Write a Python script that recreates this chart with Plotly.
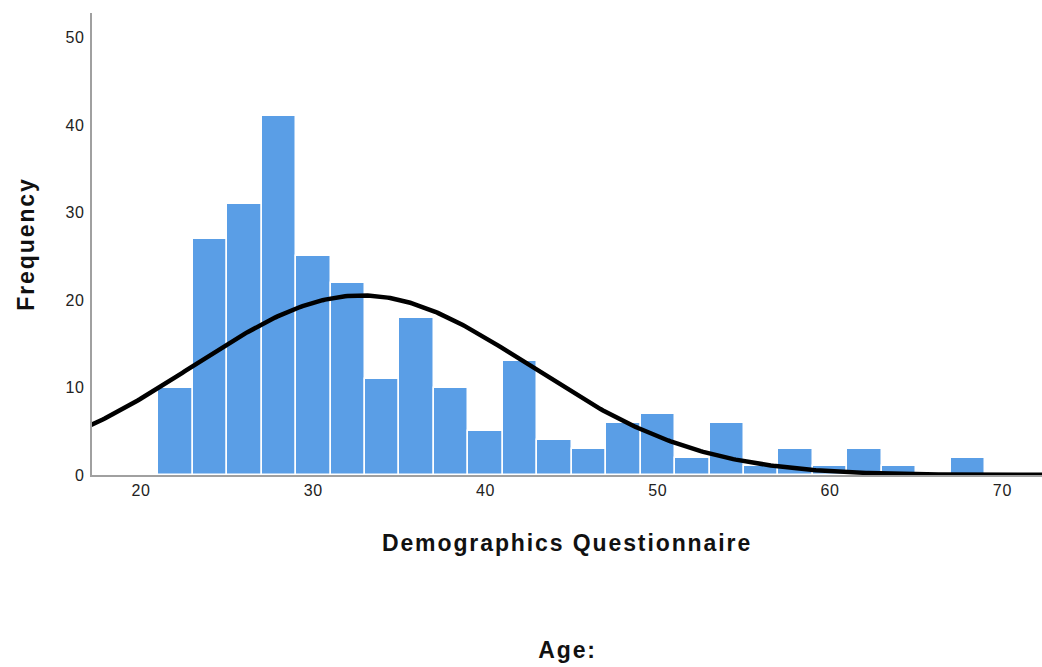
import numpy as np
import plotly.graph_objects as go

# Histogram bins (age, bin width 2)
bin_starts = [21, 23, 25, 27, 29, 31, 33, 35, 37, 39, 41, 43, 45, 47, 49, 51, 53, 55, 57, 59, 61, 63, 65, 67]
counts = [10, 27, 31, 41, 25, 22, 11, 18, 10, 5, 13, 4, 3, 6, 7, 2, 6, 1, 3, 1, 3, 1, 0, 2]
bin_width = 2

# Normal curve parameters (fitted)
fit_mean = 32.8
fit_sd = 9.8
n_total = sum(counts)

x_ticks = [20, 30, 40, 50, 60, 70]
y_ticks = [0, 10, 20, 30, 40, 50]

centers = [s + bin_width / 2 for s in bin_starts]

xs = np.linspace(16, 74, 400)
ys = n_total * bin_width / (fit_sd * np.sqrt(2 * np.pi)) * np.exp(-0.5 * ((xs - fit_mean) / fit_sd) ** 2)

FONT = "Liberation Sans, Arial, sans-serif"

fig = go.Figure()
fig.add_trace(go.Bar(
    x=centers, y=counts, width=bin_width,
    marker=dict(color="#5A9EE6", line=dict(color="white", width=1.5)),
    hoverinfo="x+y", showlegend=False,
))
fig.add_trace(go.Scatter(
    x=xs, y=ys, mode="lines",
    line=dict(color="black", width=4.5),
    showlegend=False, cliponaxis=True,
))

fig.update_layout(
    width=1042, height=667,
    margin=dict(l=92, r=0, t=13, b=192),
    paper_bgcolor="white", plot_bgcolor="white",
    font=dict(family=FONT, size=16, color="#222"),
    bargap=0,
    xaxis=dict(
        range=[17.15, 72.3], tickvals=x_ticks, showgrid=False, zeroline=False,
        showline=True, linecolor="#a0a0a0", linewidth=2, ticks="",
        tickfont=dict(size=16, color="#222"),
        title=dict(text="<b>Demographics Questionnaire</b>", font=dict(size=23, color="#111"), standoff=37),
    ),
    yaxis=dict(
        range=[0, 52.8], tickvals=y_ticks, showgrid=False, zeroline=False,
        showline=True, linecolor="#a0a0a0", linewidth=2, ticks="",
        tickfont=dict(size=16, color="#222"), ticklabelstandoff=2,
        title=dict(text="<b>Frequency</b>", font=dict(size=23, color="#111"), standoff=26),
    ),
    annotations=[dict(
        text="<b>Age:</b>", x=0.5, xref="paper", y=-(650 - 475) / (475 - 13), yref="paper",
        yanchor="middle", showarrow=False, font=dict(size=23, color="#111"),
    )],
)

post = """
var gd = document.getElementById('{plot_id}');
function spacing(){
  gd.querySelectorAll('.xtitle, .ytitle, .annotation-text').forEach(function(t){ t.style.letterSpacing = '1.9px'; });
  gd.querySelectorAll('.xtick text, .ytick text').forEach(function(t){ t.style.letterSpacing = '0.8px'; });
}
spacing();
gd.on('plotly_afterplot', spacing);
"""

fig.write_html("out.html", post_script=post)
